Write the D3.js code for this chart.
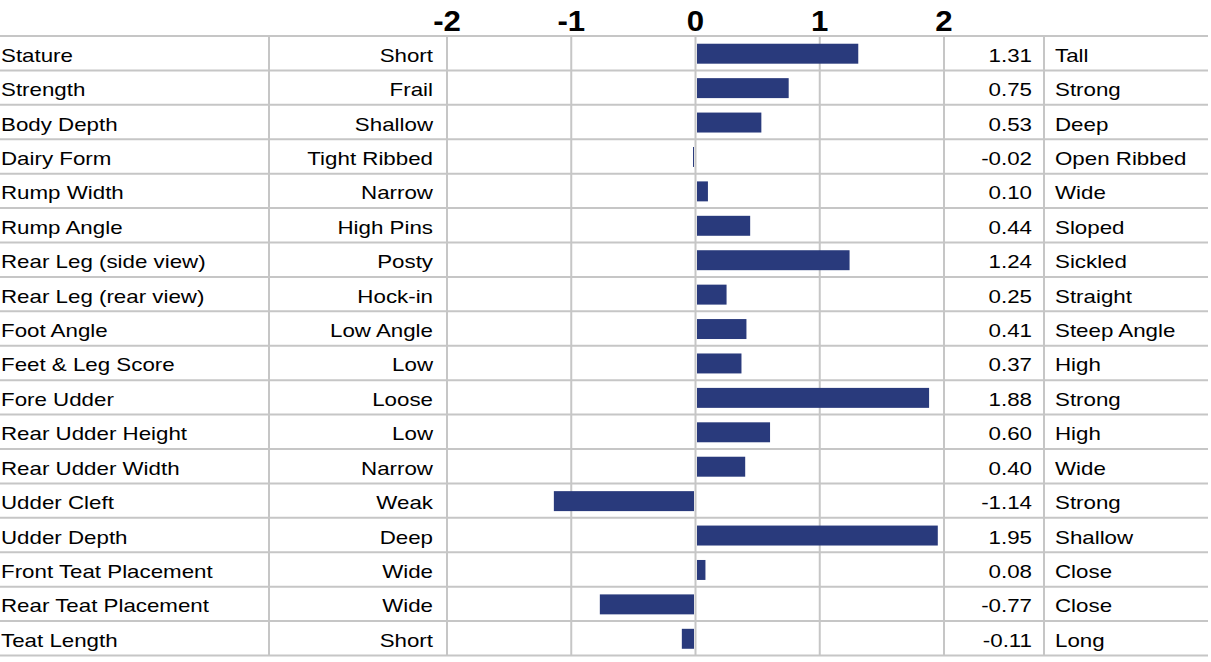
<!DOCTYPE html>
<html><head><meta charset="utf-8">
<script src="https://cdn.jsdelivr.net/npm/d3@7"></script>
<style>html,body{margin:0;padding:0;background:#fff;}svg{display:block;}</style>
</head><body>
<script>
const traits = ["Stature","Strength","Body Depth","Dairy Form","Rump Width","Rump Angle","Rear Leg (side view)","Rear Leg (rear view)","Foot Angle","Feet & Leg Score","Fore Udder","Rear Udder Height","Rear Udder Width","Udder Cleft","Udder Depth","Front Teat Placement","Rear Teat Placement","Teat Length"];
const lowLabels = ["Short","Frail","Shallow","Tight Ribbed","Narrow","High Pins","Posty","Hock-in","Low Angle","Low","Loose","Low","Narrow","Weak","Deep","Wide","Wide","Short"];
const highLabels = ["Tall","Strong","Deep","Open Ribbed","Wide","Sloped","Sickled","Straight","Steep Angle","High","Strong","High","Wide","Strong","Shallow","Close","Close","Long"];
const values = [1.31,0.75,0.53,-0.02,0.10,0.44,1.24,0.25,0.41,0.37,1.88,0.60,0.40,-1.14,1.95,0.08,-0.77,-0.11];
const tickValues = [-2,-1,0,1,2];

(function(){
const W = 1211, H = 662;
const svg = d3.select("body").append("svg").attr("width", W).attr("height", H)
  .style("font-family","'Liberation Sans', Arial, sans-serif");

const x = d3.scaleLinear().domain([-2,2]).range([447,944]);
const y = d3.scaleBand().domain(traits).range([36,655.5]).padding(0);
const gridColor = "#c6c6c6";
const colLines = [269, 1044];
const bh = y.bandwidth()*0.58;

// horizontal grid lines
const hLines = traits.map(t => y(t)).concat([y(traits[traits.length-1]) + y.bandwidth()]);
svg.append("g").selectAll("line").data(hLines).join("line")
  .attr("x1", 0).attr("x2", 1208).attr("y1", d => d).attr("y2", d => d)
  .attr("stroke", gridColor).attr("stroke-width", 2);

// vertical grid lines
const yTop = y.range()[0], yBot = y.range()[1];
svg.append("g").selectAll("line").data(tickValues).join("line")
  .attr("x1", d => x(d)).attr("x2", d => x(d)).attr("y1", yTop).attr("y2", yBot)
  .attr("stroke", gridColor).attr("stroke-width", 2);
svg.append("g").selectAll("line").data(colLines).join("line")
  .attr("x1", d => d).attr("x2", d => d).attr("y1", yTop).attr("y2", yBot)
  .attr("stroke", gridColor).attr("stroke-width", 2);

// bars (leave the zero line visible)
svg.append("g").selectAll("rect").data(values).join("rect")
  .attr("x", d => d >= 0 ? x(0)+1.5 : x(d))
  .attr("width", d => Math.max(0, Math.abs(x(d)-x(0)) - 1.5))
  .attr("y", (d,i) => y(traits[i]) + (y.bandwidth()-bh)/2 + 0.5)
  .attr("height", bh)
  .attr("fill", "#293a7c");

// tick labels
svg.append("g").selectAll("text").data(tickValues).join("text")
  .attr("transform", d => `translate(${x(d)},31) scale(1.04,1)`)
  .attr("text-anchor","middle").attr("font-size", 30).attr("font-weight","bold")
  .attr("fill","#000").text(d => d);

const fs = 19, sx = 1.175;
const rowText = (arr, xp, anchor, fmt) => svg.append("g").selectAll("text").data(arr).join("text")
  .attr("transform", (d,i) => `translate(${xp},${y(traits[i]) + 25.7}) scale(${sx},1)`)
  .attr("text-anchor", anchor)
  .attr("font-size", fs).attr("fill","#000").text(fmt || (d => d));

rowText(traits, 1, "start");
rowText(lowLabels, 433, "end");
rowText(values, 1032, "end", d => d.toFixed(2));
rowText(highLabels, 1055, "start");
})();
</script>
</body></html>
